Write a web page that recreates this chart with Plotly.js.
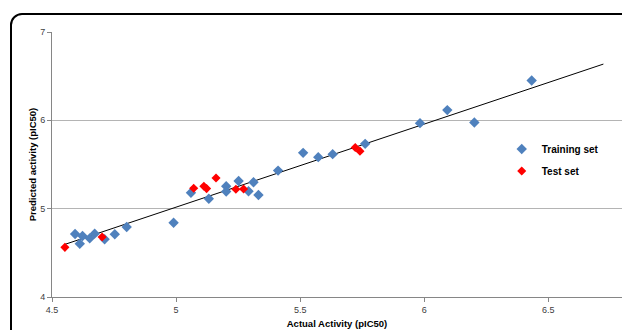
<!DOCTYPE html>
<html>
<head>
<meta charset="utf-8">
<script src="https://cdn.plot.ly/plotly-3.0.1.min.js"></script>
<style>
  html, body { margin: 0; padding: 0; background: #fff; overflow: hidden; }
  #wrap { position: relative; width: 622px; height: 330px; }
  #chart { position: absolute; left: 0; top: 0; width: 622px; height: 330px; }
  #frame { position: absolute; left: 10px; top: 13px; width: 700px; height: 400px;
           border: 2px solid #000; border-radius: 12px; pointer-events: none; box-sizing: border-box; }
</style>
</head>
<body>
<div id="wrap">
  <div id="chart"></div>
  <div id="frame"></div>
</div>
<script>
// Training set (actual, predicted)
const trainActual = [4.593, 4.612, 4.623, 4.652, 4.672, 4.712, 4.753, 4.801, 4.990, 5.060,
                     5.132, 5.202, 5.202, 5.252, 5.292, 5.312, 5.332, 5.411, 5.512, 5.573,
                     5.631, 5.762, 5.983, 6.093, 6.202, 6.433];
const trainPred   = [4.713, 4.603, 4.690, 4.664, 4.717, 4.653, 4.710, 4.792, 4.841, 5.181,
                     5.113, 5.254, 5.193, 5.314, 5.197, 5.299, 5.155, 5.431, 5.632, 5.583,
                     5.617, 5.734, 5.968, 6.116, 5.975, 6.451];
// Test set (actual, predicted)
const testActual = [4.552, 4.702, 5.071, 5.112, 5.123, 5.161, 5.241, 5.272, 5.722, 5.741];
const testPred   = [4.562, 4.679, 5.231, 5.254, 5.227, 5.348, 5.220, 5.223, 5.692, 5.651];
// Linear trendline (slope, intercept) and its x extent
const trendSlope = 0.9406;
const trendIntercept = 0.314;
const trendX = [4.552, 6.722];
const trendY = trendX.map(x => trendSlope * x + trendIntercept);

const xTicks = [4.5, 5, 5.5, 6, 6.5];
const yTicks = [4, 5, 6, 7];

const traces = [
  { x: trendX, y: trendY, mode: 'lines', type: 'scatter', showlegend: false,
    line: { color: '#000', width: 1 }, hoverinfo: 'skip' },
  { x: trainActual, y: trainPred, mode: 'markers', type: 'scatter', name: 'Training set',
    legendgroup: 'a',
    marker: { symbol: 'diamond', size: 8, color: '#4F81BD' } },
  { x: testActual, y: testPred, mode: 'markers', type: 'scatter', name: 'Test set',
    legendgroup: 'b',
    marker: { symbol: 'diamond', size: 7, color: '#FF0000' } }
];

const layout = {
  width: 622, height: 330,
  margin: { l: 52.3, r: 0, t: 32.3, b: 33 },
  paper_bgcolor: 'rgba(0,0,0,0)', plot_bgcolor: 'rgba(0,0,0,0)',
  showlegend: true,
  legend: { x: 0.789, y: 0.613, xanchor: 'left', yanchor: 'top',
            font: { family: 'Liberation Sans, Arial, sans-serif', size: 10, color: '#000', weight: 'bold' },
            tracegroupgap: 3, itemsizing: 'trace', bgcolor: 'rgba(0,0,0,0)' },
  xaxis: {
    range: [4.5, 6.797], tickvals: xTicks, ticktext: xTicks.map(String),
    showgrid: false, zeroline: false,
    showline: true, linecolor: '#868686', linewidth: 1,
    ticks: 'outside', ticklen: 4, tickcolor: '#868686',
    tickfont: { family: 'Liberation Sans Narrow, Liberation Sans, Arial, sans-serif', size: 9, color: '#404040' },
    title: { text: 'Actual Activity (pIC50)', standoff: 6,
             font: { family: 'Liberation Sans, Arial, sans-serif', size: 9.5, color: '#000', weight: 'bold' } }
  },
  yaxis: {
    range: [4, 7], tickvals: yTicks, ticktext: yTicks.map(String),
    showgrid: true, gridcolor: '#B4B4B4', gridwidth: 1, zeroline: false,
    showline: true, linecolor: '#868686', linewidth: 1,
    ticks: 'outside', ticklen: 4, tickcolor: '#868686',
    tickfont: { family: 'Liberation Sans Narrow, Liberation Sans, Arial, sans-serif', size: 9, color: '#404040' },
    title: { text: 'Predicted activity (pIC50)', standoff: 1,
             font: { family: 'Liberation Sans, Arial, sans-serif', size: 9.5, color: '#000', weight: 'bold' } }
  }
};

Plotly.newPlot('chart', traces, layout, { staticPlot: true, displayModeBar: false });
</script>
</body>
</html>
